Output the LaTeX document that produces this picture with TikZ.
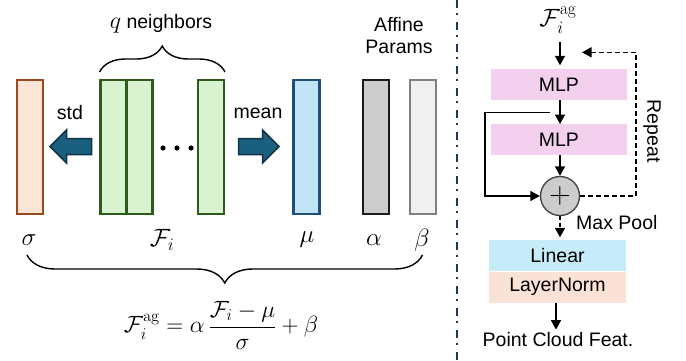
\documentclass[tikz,border=0pt]{standalone}
\usepackage{fix-cm}
\usepackage{amsmath}
\usepackage[no-math]{fontspec}
\setmainfont{Liberation Sans}
\usetikzlibrary{arrows.meta,decorations.pathreplacing,calc}
\definecolor{orF}{HTML}{FCE4D6}
\definecolor{orD}{HTML}{9A4A1E}
\definecolor{grF}{HTML}{D9F2D0}
\definecolor{grD}{HTML}{2E5A1C}
\definecolor{blF}{HTML}{C0E4F5}
\definecolor{blD}{HTML}{1F4E79}
\definecolor{gyF}{HTML}{CCCCCC}
\definecolor{gyD}{HTML}{1A1A1A}
\definecolor{ltF}{HTML}{F0F0F0}
\definecolor{ltD}{HTML}{808080}
\definecolor{tealF}{HTML}{1A5F7E}
\definecolor{tealD}{HTML}{0F3347}
\definecolor{mlpF}{HTML}{F2D0EE}
\definecolor{linF}{HTML}{C7ECF9}
\definecolor{lnF}{HTML}{FBE2D7}
\definecolor{divC}{HTML}{1C3A58}
\newcommand\txtfont{\fontsize{19.5}{23}\selectfont}
\newcommand\mathfont{\fontsize{25}{29}\selectfont}
\newcommand\eqfont{\fontsize{23.5}{28}\selectfont}
\begin{document}
\begin{tikzpicture}[x=1pt,y=-1pt,
  bar/.style={draw, line width=2.4pt, minimum width=26pt, minimum height=134pt, inner sep=0pt, outer sep=0pt},
  blk/.style={minimum width=136pt, minimum height=31pt, inner sep=0pt, outer sep=0pt, font=\txtfont},
  txt/.style={font=\txtfont, inner sep=0pt, align=center},
  mlbl/.style={font=\mathfont, inner sep=0pt},
  arr/.style={-{Triangle[length=9.5pt,width=10pt]}, line width=1.4pt},
  blockarrow/.style={fill=tealF, draw=tealD, line width=1.5pt, line join=miter},
  bracestyle/.style={decorate, line width=1.4pt}
]
\useasboundingbox (0,0) rectangle (686,360);

% ---------- left panel bars ----------
\node[bar, fill=orF, draw=orD] (sig) at (29.9,146.8) {};
\node[bar, fill=grF, draw=grD] (g1) at (113.5,146.8) {};
\node[bar, fill=grF, draw=grD] (g2) at (139.5,146.8) {};
\node[bar, fill=grF, draw=grD] (g3) at (211,146.8) {};
\node[bar, fill=blF, draw=blD] (mu) at (306.3,146.8) {};
\node[bar, fill=gyF, draw=gyD] (al) at (376,146.8) {};
\node[bar, fill=ltF, draw=ltD] (be) at (422.8,146.8) {};

% dots
\fill (163,148) circle (2.6) (177,148) circle (2.6) (191,148) circle (2.6);

% block arrows
\draw[blockarrow] (50,146.5) -- (66.5,130) -- (66.5,138.5) -- (91.5,138.5) -- (91.5,154.5) -- (66.5,154.5) -- (66.5,163) -- cycle;
\draw[blockarrow] (279,146.5) -- (262.5,130) -- (262.5,138.5) -- (238.5,138.5) -- (238.5,154.5) -- (262.5,154.5) -- (262.5,163) -- cycle;

\node[txt] (std) at (70,113) {std};
\node[txt] (mean) at (258,113) {mean};

% top brace
\draw[bracestyle, decoration={brace, amplitude=26pt}] (99.5,72) -- (225,72);
\node[txt] (qn) at (161,24) {{\fontsize{24}{28}\selectfont$q$} neighbors};
\node[txt] (aff) at (399,36) {Affine\\[-1pt]Params};

% labels
\node[mlbl] (lsig) at (29,240) {$\sigma$};
\node[mlbl] (lF) at (162,240) {$\mathcal{F}_i$};
\node[mlbl] (lmu) at (307,240) {$\mu$};
\node[mlbl] (lal) at (374,240) {$\alpha$};
\node[mlbl] (lbe) at (422,240) {$\beta$};

% bottom brace
\draw[bracestyle, decoration={brace, amplitude=28pt}] (422.5,255) -- (27,255);
\node[mlbl, font=\eqfont] (eq) at (221,325) {$\mathcal{F}_i^{\mathrm{ag}} = \alpha\,\dfrac{\mathcal{F}_i-\mu}{\sigma}+\beta$};

% divider
\draw[divC, line width=2pt, dash pattern=on 8pt off 5pt on 2pt off 7pt] (456.7,0) -- (456.7,360);

% ---------- right panel ----------
\node[mlbl] (fin) at (558,20) {$\mathcal{F}_i^{\mathrm{ag}}$};
\node[blk, fill=mlpF] (m1) at (558.8,84.8) {MLP};
\node[blk, fill=mlpF] (m2) at (558.8,139.5) {MLP};
\node[circle, draw=black!75, fill=gyF, line width=1.3pt, minimum size=39pt, inner sep=0pt, font=\fontsize{30}{34}\selectfont] (plus) at (560,196) {$+$};
\node[blk, fill=linF, minimum width=137pt] (lin) at (557.5,255.3) {Linear};
\node[blk, fill=lnF, minimum width=137pt] (ln) at (557.5,287.3) {LayerNorm};
\node[txt] (pcf) at (558,340) {Point Cloud Feat.};
\node[txt, anchor=west] (mp) at (576,222.7) {Max Pool};
\node[txt, rotate=-90] (rep) at (652,131) {Repeat};

\coordinate (a1) at (560,42);
\coordinate (sk) at (550,112.7);
\coordinate (rt) at (582,52.3);
\coordinate (ao) at (556,303);

\draw[arr, shorten >=4pt] (a1) -- (a1 |- m1.north);
\draw[arr] (m1.south -| a1) -- (m2.north -| a1);
\draw[arr] (m2.south -| a1) -- (plus.north);
\draw[arr] (sk) -- (485,112.7) |- (plus.west);
\draw[arr, dash pattern=on 5pt off 3pt] (plus.east) -- (636,196) |- (rt);
\draw[arr, dash pattern=on 4pt off 2.5pt, shorten >=2.5pt] (plus.south) -- (plus.south |- lin.north);
\draw[arr, shorten >=3pt] (ao) -- (ao |- pcf.north);
\end{tikzpicture}
\end{document}
